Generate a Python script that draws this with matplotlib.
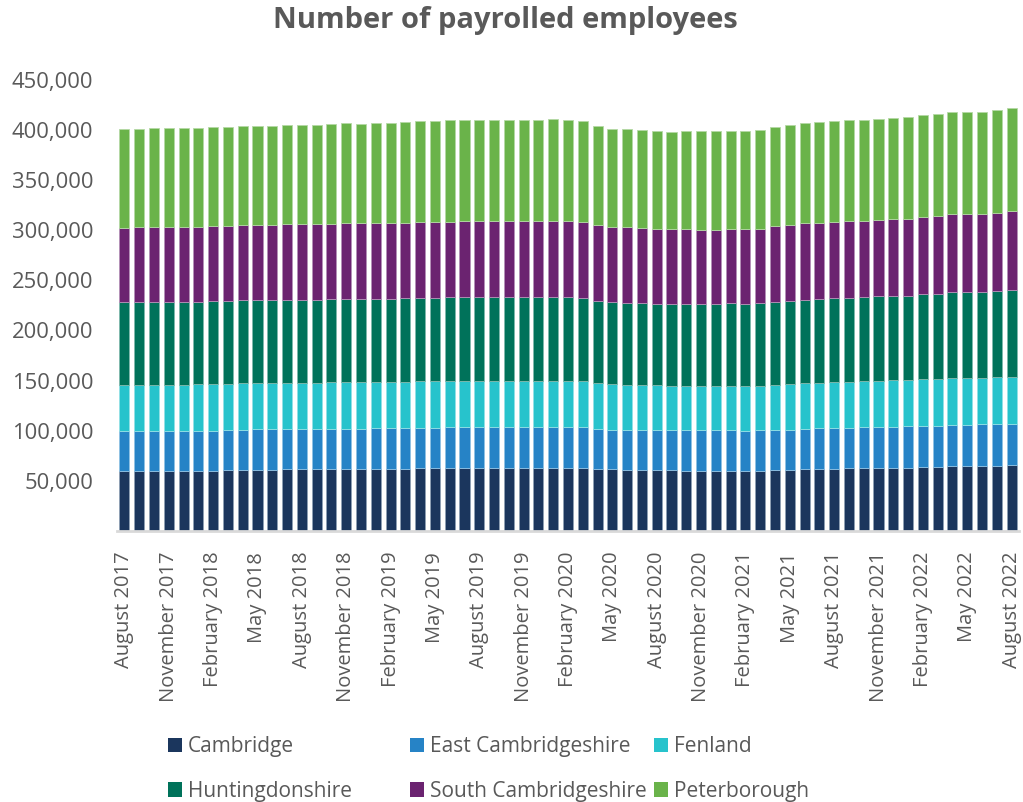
import matplotlib
matplotlib.use("Agg")
import matplotlib.pyplot as plt
from matplotlib.ticker import FuncFormatter, MultipleLocator
from matplotlib.patches import Patch
import numpy as np

months = ["January", "February", "March", "April", "May", "June", "July",
          "August", "September", "October", "November", "December"]
# Monthly periods from August 2017 to August 2022
periods = [f"{months[(7 + i) % 12]} {2017 + (7 + i) // 12}" for i in range(61)]

# Values in thousands of payrolled employees
cambridge = [60.3, 60.3, 60.3, 60.3, 60.3, 60.3, 60.3, 61.3, 61.3, 61.3,
             61.3, 62.3, 62.3, 62.3, 62.3, 62.3, 62.3, 62.3, 62.3, 62.3,
             62.9, 62.9, 62.9, 62.9, 62.9, 62.9, 62.9, 62.9, 62.9, 62.9,
             62.9, 62.9, 61.9, 61.9, 61.3, 61.3, 61.3, 61.3, 60.3, 60.3,
             60.3, 60.3, 60.3, 60.3, 61.3, 61.3, 62.3, 62.3, 62.3, 63.3,
             63.3, 63.3, 63.3, 63.3, 63.9, 63.9, 64.9, 64.9, 64.9, 64.9,
             65.9]
east_cambs = [39.8, 39.8, 39.8, 39.8, 39.8, 39.8, 39.8, 39.8, 39.8, 40.8,
              40.8, 39.8, 39.8, 39.8, 39.8, 39.8, 39.8, 40.7, 40.7, 40.7,
              39.8, 39.8, 40.8, 40.8, 40.8, 40.8, 40.8, 40.8, 40.8, 40.8,
              40.8, 40.8, 40.2, 39.2, 39.8, 39.8, 39.1, 39.1, 40.1, 40.1,
              40.1, 40.1, 39.4, 40.1, 39.8, 39.8, 39.8, 40.7, 40.7, 39.7,
              40.4, 40.4, 40.4, 41.4, 40.8, 40.8, 40.8, 40.8, 41.8, 41.8,
              40.8]
fenland = [45.1, 45.1, 45.1, 45.1, 45.1, 46.1, 46.1, 45.1, 46.1, 45.1,
           45.1, 45.1, 45.1, 45.1, 46.1, 46.1, 46.1, 45.2, 45.2, 45.7,
           46.5, 46.5, 45.5, 45.5, 45.5, 45.5, 45.5, 45.5, 45.5, 45.5,
           45.5, 45.5, 45.1, 45.1, 44.1, 44.1, 44.8, 44.1, 44.1, 44.1,
           44.1, 44.1, 44.8, 44.1, 44.1, 45.1, 45.1, 44.2, 45.2, 45.2,
           45.5, 45.5, 46.5, 45.5, 46.4, 46.4, 46.4, 46.4, 45.4, 46.4,
           46.4]
huntingdonshire = [83.2, 83.2, 83.2, 83.2, 83.2, 82.2, 83.2, 83.2, 83.2, 83.2,
                   83.2, 83.2, 83.2, 83.2, 83.2, 83.2, 83.2, 83.2, 83.2, 83.7,
                   83.2, 83.2, 84.2, 84.2, 84.2, 84.2, 84.2, 84.2, 84.2, 84.2,
                   84.2, 83.2, 82.2, 82.2, 82.2, 82.2, 81.2, 81.9, 81.9, 81.9,
                   81.9, 82.3, 81.6, 82.3, 83.2, 83.2, 83.2, 84.2, 84.2, 84.2,
                   84.2, 85.2, 84.2, 84.2, 85.3, 85.3, 86.3, 86.3, 86.3, 86.3,
                   87.3]
south_cambs = [73.3, 74.3, 74.3, 74.3, 74.3, 74.3, 74.3, 74.3, 74.3, 74.3,
               74.3, 75.3, 75.3, 75.3, 74.3, 75.3, 75.3, 75.3, 75.3, 75.0,
               76.0, 76.0, 75.0, 76.0, 76.0, 76.0, 76.0, 76.0, 76.0, 76.0,
               76.0, 76.0, 75.3, 74.3, 75.3, 74.3, 74.3, 74.3, 74.3, 73.3,
               73.3, 73.9, 74.6, 73.9, 75.3, 75.3, 76.3, 76.0, 75.6, 76.6,
               75.6, 75.6, 76.6, 76.6, 76.3, 77.3, 77.3, 77.3, 77.3, 77.3,
               78.2]
peterborough = [99.2, 98.2, 99.2, 99.2, 99.2, 99.2, 99.2, 99.2, 99.2, 99.2,
                99.2, 99.2, 99.2, 99.2, 99.8, 99.8, 98.8, 99.8, 99.8, 100.1,
                100.1, 100.1, 101.1, 100.1, 100.1, 100.1, 100.1, 100.1, 100.1, 101.1,
                100.1, 100.1, 99.2, 98.2, 98.2, 98.2, 98.2, 97.2, 98.2, 99.2,
                99.2, 98.2, 98.2, 99.2, 99.2, 100.2, 99.8, 100.1, 100.5, 101.2,
                101.2, 101.2, 101.2, 102.2, 102.1, 102.1, 102.1, 102.1, 102.1, 102.8,
                102.9]

series_names = ["Cambridge", "East Cambridgeshire", "Fenland",
                "Huntingdonshire", "South Cambridgeshire", "Peterborough"]
series_values = [cambridge, east_cambs, fenland, huntingdonshire,
                 south_cambs, peterborough]
colors = ["#1b365d", "#2683c6", "#27c3cc", "#00725a", "#6b2370", "#6ab34a"]
edge_colors = ["#8fa0b5", "#8fc2e4", "#93e0e5", "#80b8ac", "#b591b8", "#b4d9a4"]

fig = plt.figure(figsize=(10.23, 8.02), dpi=100)
ax = fig.add_axes([117 / 1023, 1 - 531 / 802, 902 / 1023, 451.4 / 802])

x = np.arange(len(periods))
bottom = np.zeros(len(periods))
handles = []
for name, vals, c, ec in zip(series_names, series_values, colors, edge_colors):
    vals = np.array(vals)
    ax.bar(x, vals, bottom=bottom, width=0.68, color=c, edgecolor=ec,
           linewidth=0.6, label=name)
    bottom = bottom + vals
    handles.append(Patch(facecolor=c, edgecolor="none", label=name))

ax.set_xlim(-0.5, len(periods) - 0.5)
ax.set_ylim(0, 450)
ax.yaxis.set_major_locator(MultipleLocator(50))
ax.yaxis.set_major_formatter(FuncFormatter(
    lambda v, p: "" if v == 0 else f"{int(round(v * 1000)):,}"))

ax.set_xticks(x[::3])
ax.set_xticklabels(periods[::3], rotation=90, fontsize=14.5,
                   family="Open Sans", color="#595959")
for lab in ax.get_yticklabels():
    lab.set_family("Open Sans")
ax.tick_params(axis="y", length=0, pad=17, labelsize=15.8, labelcolor="#595959")
ax.tick_params(axis="x", length=0, pad=15)

for s in ["top", "right", "left"]:
    ax.spines[s].set_visible(False)
ax.spines["bottom"].set_color("#d9d9d9")
ax.spines["bottom"].set_linewidth(2)

fig.text(505 / 1023, 1 - 28 / 802, "Number of payrolled employees", ha="center",
         va="baseline", fontsize=21, fontweight="bold", family="Open Sans",
         color="#595959")

# Legend: three columns of two entries
col_x = [168 / 1023, 410 / 1023, 654 / 1023]
cols = [[0, 3], [1, 4], [2, 5]]
for cx, idxs in zip(col_x, cols):
    leg = fig.legend(handles=[handles[i] for i in idxs],
                     loc="upper left", bbox_to_anchor=(cx, 1 - 736 / 802),
                     frameon=False, prop={"family": "Open Sans", "size": 15},
                     handlelength=0.67, handleheight=0.67, handletextpad=0.3,
                     labelspacing=1.14, borderaxespad=0, borderpad=0)
    for t in leg.get_texts():
        t.set_color("#595959")

fig.savefig("out.png", dpi=100)
